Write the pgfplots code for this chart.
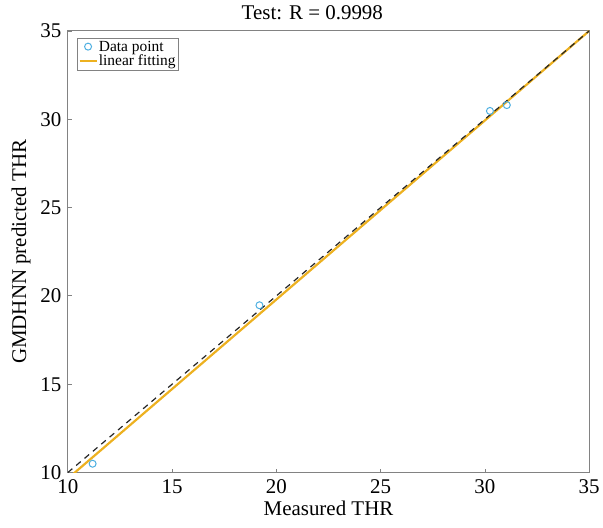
\documentclass[border=0pt]{standalone}
\usepackage{fontspec}
\setmainfont{Liberation Serif}
\usepackage{pgfplots}
\pgfplotsset{compat=1.18}
\definecolor{mblue}{RGB}{77,175,225}
\definecolor{morange}{RGB}{237,177,32}
\definecolor{axgray}{RGB}{130,130,130}
\begin{document}
\begin{tikzpicture}
\begin{axis}[
  name=ax,
  scale only axis, width=523pt, height=443pt,
  xmin=10, xmax=35, ymin=10, ymax=35,
  xtick={10,15,20,25,30,35}, ytick={10,15,20,25,30,35},
  tick align=inside, major tick length=4pt,
  xtick pos=left, ytick pos=left,
  axis line style={axgray, line width=1pt},
  tick style={axgray, line width=0.8pt},
  /pgf/number format/assume math mode=true,
  tick label style={font=\fontsize{21}{21}\selectfont, text=black},
  xticklabel style={yshift=-4pt},
  yticklabel style={xshift=-3pt},
  label style={font=\fontsize{21}{21}\selectfont},
  ylabel style={yshift=3pt},
  title={Test: R = 0.9998},
  title style={font=\fontsize{21}{21}\selectfont, at={(0.469,1)}, anchor=south, yshift=2pt},
  xlabel={Measured THR}, ylabel={GMDHNN predicted THR},
  legend style={at={(0,1)}, anchor=north west, xshift=9pt, yshift=-7pt, draw=axgray,
    font=\fontsize{15.5}{16}\selectfont, inner sep=1.5pt, row sep=0pt,
    nodes={inner sep=1.2pt}},
  legend cell align=left,
]
\addplot[only marks, mark=o, mark size=3.5pt, mblue, line width=1pt] coordinates {
  (11.19,10.5) (19.19,19.47) (30.24,30.47) (31.05,30.8)
};
\addlegendentry{Data point}
\addplot[morange, line width=2.2pt] coordinates {(10,9.66) (35,35)};
\addlegendentry{linear fitting}
\addplot[black!85, dashed, dash pattern=on 6pt off 5pt, line width=1.2pt, forget plot] coordinates {(10,10) (35,35)};
\end{axis}
\path ([xshift=-68pt,yshift=-55pt]ax.south west) rectangle ([xshift=12pt,yshift=31pt]ax.north east);
\end{tikzpicture}
\end{document}
